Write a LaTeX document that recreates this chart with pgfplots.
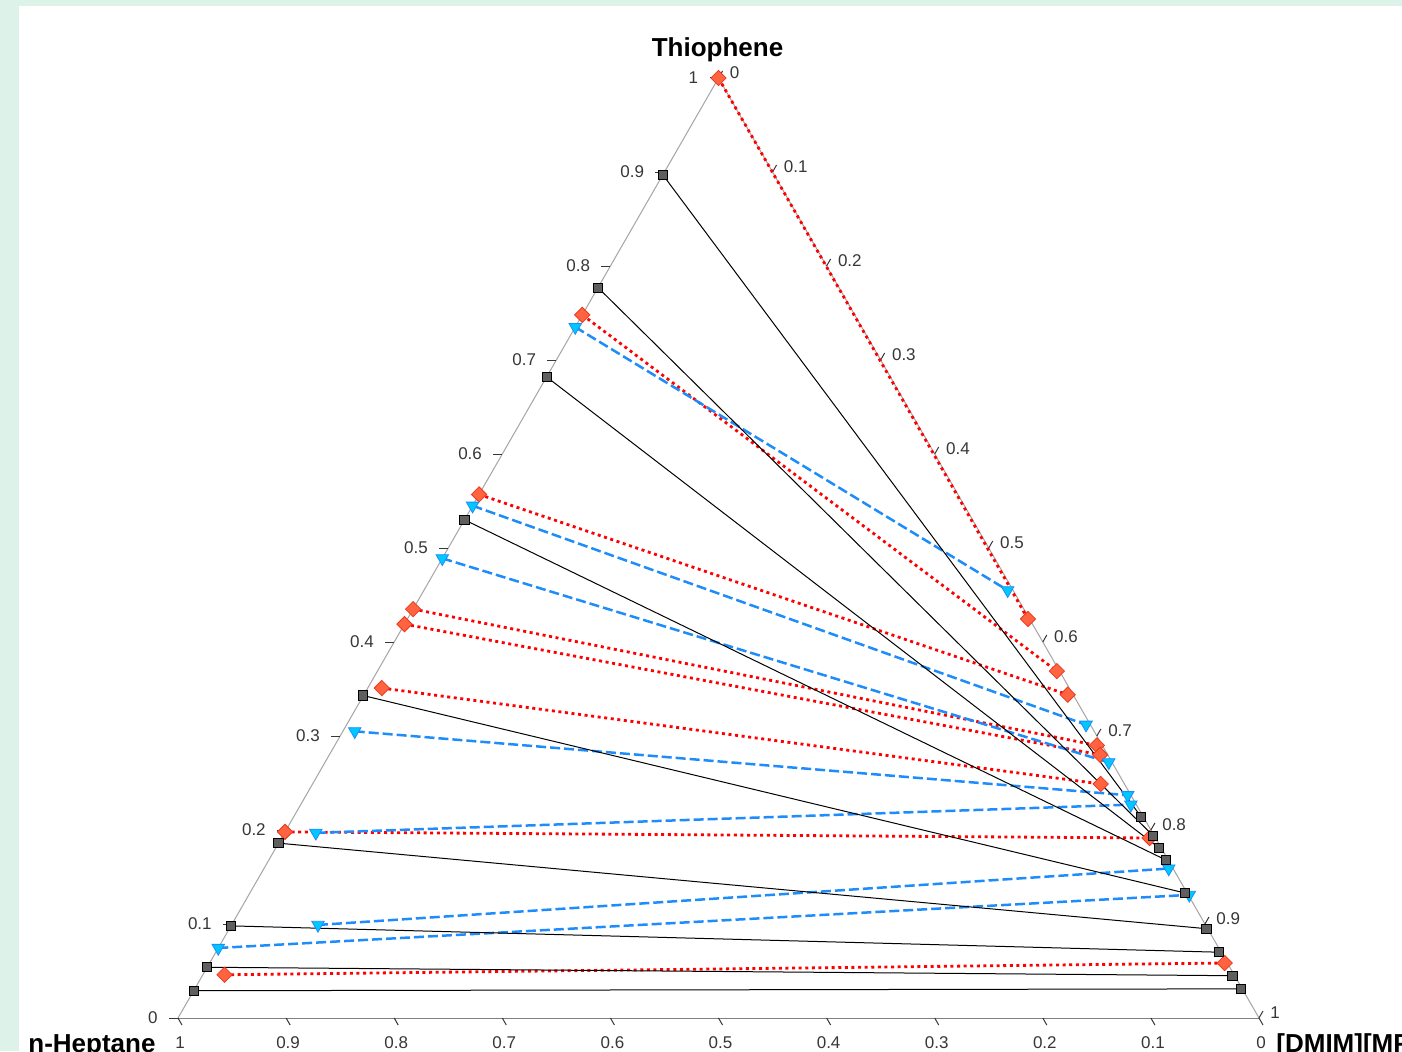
\documentclass[border=0pt]{standalone}
\usepackage{pgfplots}
\pgfplotsset{compat=1.18}
\usepackage{pgfplotstable}
\usepackage{fontspec}
\setmainfont{Liberation Sans}

\definecolor{mint}{RGB}{221,242,233}
\definecolor{tickgray}{RGB}{55,55,55}
\definecolor{edgegray}{RGB}{165,165,165}
\definecolor{sqfill}{RGB}{95,95,95}
\definecolor{redline}{RGB}{255,0,0}
\definecolor{dmfill}{RGB}{255,99,64}
\definecolor{dmdraw}{RGB}{235,55,30}
\definecolor{blueline}{RGB}{30,140,250}
\definecolor{trifill}{RGB}{0,200,255}

% columns: T = thiophene mass fraction, IL = [DMIM][MP] mass fraction
\pgfplotstableread{
T IL
0.897 0
0.214 0.784
nan nan
0.777 0
0.194 0.805
nan nan
0.682 0
0.181 0.817
nan nan
0.530 0
0.168 0.830
nan nan
0.343 0
0.133 0.865
nan nan
0.186 0
0.095 0.904
nan nan
0.098 0
0.070 0.928
nan nan
0.054 0
0.045 0.953
nan nan
0.029 0
0.031 0.968
}\blacktab

\pgfplotstableread{
T IL
1.000 0
0.4245 0.574
nan nan
0.748 0
0.369 0.6285
nan nan
0.557 0
0.344 0.651
nan nan
0.435 0
0.290 0.705
nan nan
0.419 0
0.280 0.713
nan nan
0.351 0.013
0.249 0.729
nan nan
0.198 0
0.1915 0.803
nan nan
0.046 0.020
0.0585 0.939
}\redtab

\pgfplotstableread{
T IL
0.735 0
0.455 0.540
nan nan
0.545 0
0.312 0.684
nan nan
0.489 0
0.272 0.725
nan nan
0.305 0.011
0.237 0.760
nan nan
0.197 0.029
0.227 0.768
nan nan
0.099 0.080
0.159 0.837
nan nan
0.0745 0
0.131 0.870
}\bluetab

\begin{document}
\begin{tikzpicture}
\fill[mint] (0,0) rectangle (701pt,525.5pt);
\fill[white] (9.5pt,0) rectangle (701pt,522.5pt);
\begin{scope}[x=0.5pt,y=0.5pt]
  % triangle
  \draw[edgegray, line width=0.5pt] (178,33) -- (718.5,973) -- (1259,33);
  \draw[gray, line width=0.5pt] (178,33) -- (1259,33);
  \foreach \i in {0,...,10}{
    \pgfmathsetmacro{\t}{\i/10}
    \def\lab{\ifnum\i=0 0\else\ifnum\i=10 1\else 0.\i\fi\fi}
    % left axis (thiophene)
    \draw[tickgray, line width=0.5pt] ({178+540.5*\t-9},{33+940*\t}) -- ({178+540.5*\t},{33+940*\t});
    \node[anchor=east, inner sep=0pt, text=tickgray, font=\fontsize{8.5}{10}\selectfont] at ({178+540.5*\t-20},{33+940*\t}) {\lab};
    % right axis (IL)
    \draw[tickgray, line width=0.5pt] ({718.5+540.5*\t},{973-940*\t}) -- ({718.5+540.5*\t+4},{973-940*\t+7});
    \node[anchor=west, inner sep=0pt, text=tickgray, font=\fontsize{8.5}{10}\selectfont] at ({718.5+540.5*\t+11},{973-940*\t+5}) {\lab};
    % bottom axis (n-heptane)
    \draw[tickgray, line width=0.5pt] ({1259-1081*\t},33) -- ({1259-1081*\t+4},26);
    \node[anchor=center, inner sep=0pt, text=tickgray, font=\fontsize{8.5}{10}\selectfont] at ({1259-1081*\t+2},8) {\lab};
  }
  \node[anchor=base, inner sep=0pt, font=\fontsize{13}{15}\selectfont\bfseries] at (717.5,994) {Thiophene};
  \node[anchor=base west, inner sep=0pt, font=\fontsize{13}{15}\selectfont\bfseries] at (28,-1) {n-Heptane};
  \node[anchor=base west, inner sep=0pt, font=\fontsize{13}{15}\selectfont\bfseries] at (1276,-1) {[DMIM][MP]};
\end{scope}
\begin{axis}[name=ax, at={(0,0)}, anchor=south west, scale only axis,
  width=701pt, height=525.5pt, xmin=0, xmax=1402, ymin=0, ymax=1051,
  hide axis, clip=false, unbounded coords=jump]
\addplot[redline, line width=1.4pt, dash pattern=on 1.5pt off 1.8pt,
  mark=square*, mark size=2.7pt,
  mark options={solid, rotate=45, fill=dmfill, draw=dmdraw, line width=0.4pt}]
  table[x expr={178+1081*(\thisrow{IL}+0.5*\thisrow{T})}, y expr={33+940*\thisrow{T}}] {\redtab};
\addplot[blueline, line width=1.25pt, dash pattern=on 5pt off 2pt,
  mark=triangle*, mark size=3.6pt,
  mark options={solid, rotate=180, fill=trifill, draw=blueline, line width=0.4pt}]
  table[x expr={178+1081*(\thisrow{IL}+0.5*\thisrow{T})}, y expr={33+940*\thisrow{T}}] {\bluetab};
\addplot[black, line width=0.5pt,
  mark=square*, mark size=2.3pt,
  mark options={solid, fill=sqfill, draw=black, line width=0.5pt}]
  table[x expr={178+1081*(\thisrow{IL}+0.5*\thisrow{T})}, y expr={33+940*\thisrow{T}}] {\blacktab};
\end{axis}
\pgfresetboundingbox
\path[use as bounding box] (0,0) rectangle (701pt,525.5pt);
\end{tikzpicture}
\end{document}
